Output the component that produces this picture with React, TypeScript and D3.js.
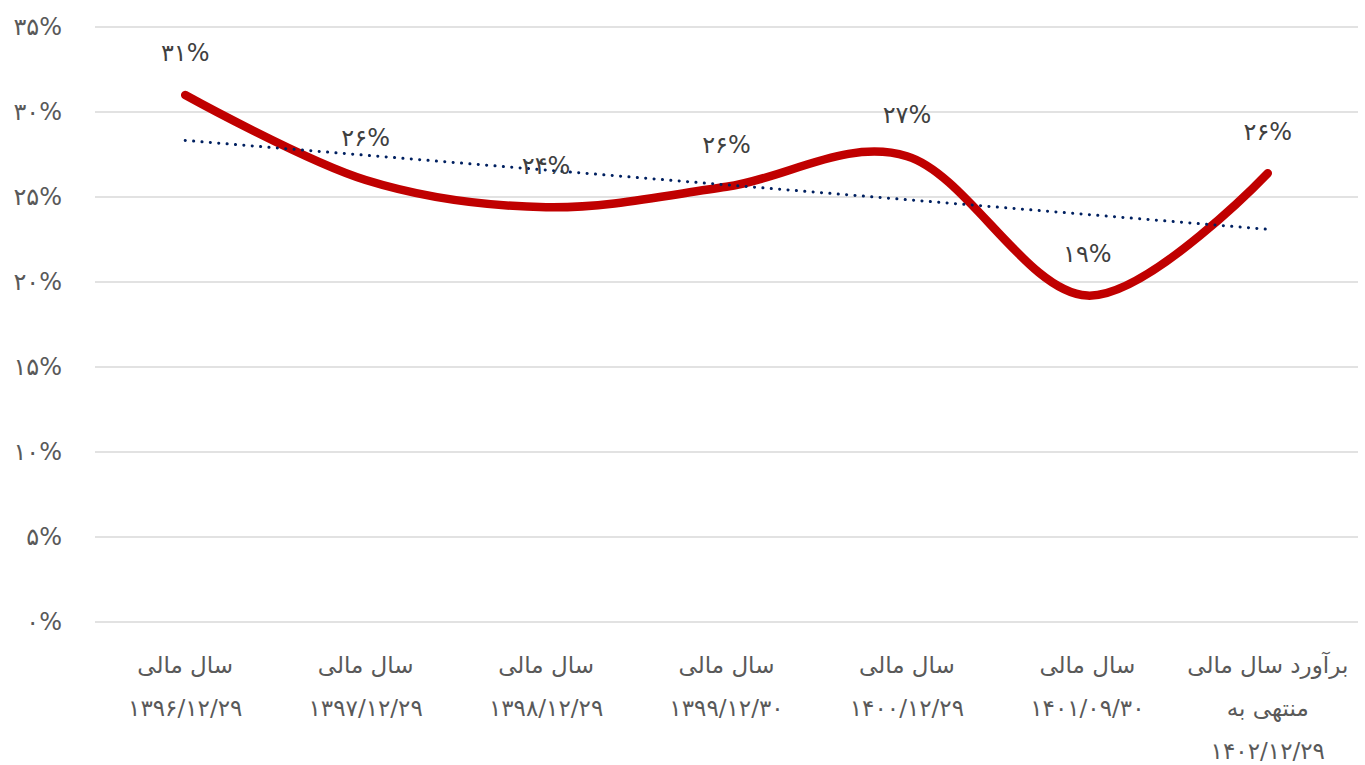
import * as d3 from "d3";
import { useEffect, useRef } from "react";

// categories (each one is a list of lines)
const categories = [
  ["سال مالی", "۱۳۹۶/۱۲/۲۹"],
  ["سال مالی", "۱۳۹۷/۱۲/۲۹"],
  ["سال مالی", "۱۳۹۸/۱۲/۲۹"],
  ["سال مالی", "۱۳۹۹/۱۲/۳۰"],
  ["سال مالی", "۱۴۰۰/۱۲/۲۹"],
  ["سال مالی", "۱۴۰۱/۰۹/۳۰"],
  ["برآورد سال مالی", "منتهی به", "۱۴۰۲/۱۲/۲۹"],
];
const values = [31.0, 26.0, 24.4, 25.6, 27.4, 19.2, 26.4];
const yTicks = [0, 5, 10, 15, 20, 25, 30, 35];

const toFa = (s: string) => s.replace(/[0-9]/g, (d) => "۰۱۲۳۴۵۶۷۸۹"[+d]);

const W = 1365;
const H = 765;

export default function App() {
  const ref = useRef<SVGSVGElement>(null);

  useEffect(() => {
    const svg = d3.select(ref.current);
    svg.selectAll("*").remove();

    const font = "'DejaVu Sans', sans-serif";
    const textColor = "#595959";

    const x = d3
      .scaleBand()
      .domain(categories.map((_, i) => String(i)))
      .range([95, 1358]);
    const cx = (i: number) => (x(String(i)) as number) + x.bandwidth() / 2;

    const y = d3.scaleLinear().domain([0, 35]).range([622, 27]);

    // gridlines
    svg
      .append("g")
      .selectAll("line")
      .data(yTicks)
      .enter()
      .append("line")
      .attr("x1", 95)
      .attr("x2", 1358)
      .attr("y1", (d) => y(d))
      .attr("y2", (d) => y(d))
      .attr("stroke", "#d9d9d9")
      .attr("stroke-width", 1.5);

    // y tick labels
    svg
      .append("g")
      .selectAll("text")
      .data(yTicks)
      .enter()
      .append("text")
      .attr("x", 62)
      .attr("y", (d) => y(d))
      .attr("dy", "0.35em")
      .attr("text-anchor", "end")
      .attr("font-family", font)
      .attr("font-size", 24)
      .attr("fill", textColor)
      .text((d) => toFa(String(d)) + "%");

    // x labels
    const xl = svg
      .append("g")
      .selectAll("text")
      .data(categories)
      .enter()
      .append("text")
      .attr("text-anchor", "middle")
      .attr("font-family", font)
      .attr("font-size", 23)
      .attr("fill", textColor);
    xl.each(function (lines, i) {
      const t = d3.select(this);
      lines.forEach((ln, j) => {
        t.append("tspan")
          .attr("x", cx(i))
          .attr("y", 673 + j * 43)
          .text(ln);
      });
    });

    // trend line (least squares over the series)
    const n = values.length;
    const mx = (n - 1) / 2;
    const my = d3.mean(values) as number;
    const slope =
      d3.sum(values, (v, i) => (i - mx) * (v - my)) /
      d3.sum(values, (_, i) => (i - mx) * (i - mx));
    const trend = (i: number) => my + slope * (i - mx);

    // main line
    const line = d3
      .line<number>()
      .x((_, i) => cx(i))
      .y((d) => y(d))
      .curve(d3.curveCardinal.tension(0));

    svg
      .append("path")
      .datum(values)
      .attr("d", line)
      .attr("fill", "none")
      .attr("stroke", "#c00000")
      .attr("stroke-width", 8.5)
      .attr("stroke-linecap", "round")
      .attr("stroke-linejoin", "round");

    svg
      .append("line")
      .attr("x1", cx(0))
      .attr("y1", y(trend(0)))
      .attr("x2", cx(n - 1))
      .attr("y2", y(trend(n - 1)))
      .attr("stroke", "#002060")
      .attr("stroke-width", 3)
      .attr("stroke-linecap", "round")
      .attr("stroke-dasharray", "0.1 8.3");

    // data labels
    svg
      .append("g")
      .selectAll("text")
      .data(values)
      .enter()
      .append("text")
      .attr("x", (_, i) => cx(i))
      .attr("y", (d) => y(d) - 42)
      .attr("dy", "0.35em")
      .attr("text-anchor", "middle")
      .attr("font-family", font)
      .attr("font-size", 24)
      .attr("fill", "#404040")
      .text((d) => toFa(String(Math.round(d))) + "%");
  }, []);

  return (
    <svg
      ref={ref}
      width={W}
      height={H}
      style={{ position: "absolute", left: 0, top: 0, background: "#fff" }}
    />
  );
}
